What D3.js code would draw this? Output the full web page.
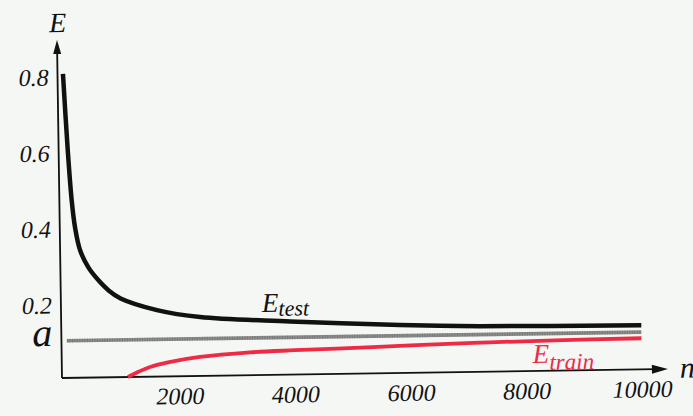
<!DOCTYPE html>
<html><head><meta charset="utf-8">
<script src="https://cdn.jsdelivr.net/npm/d3@7/dist/d3.min.js"></script>
<style>
html,body{margin:0;padding:0;background:#f5f7f4;overflow:hidden}
</style>
</head><body>
<svg id="c" width="693" height="416"></svg>
<script>
// ---- data ----
const nTest  = [60, 123, 178, 230, 310, 450, 614, 800, 1000, 1626, 2370, 3925, 5827, 7210, 10000];
const eTest  = [0.80, 0.60, 0.468, 0.395, 0.336, 0.29, 0.257, 0.228, 0.207, 0.175, 0.155, 0.14, 0.126, 0.12, 0.116];
const nTrain = [1107, 1300, 1491, 1800, 2358, 3225, 4000, 5040, 6000, 7206, 8500, 10000];
const eTrain = [0, 0.014, 0.0255, 0.037, 0.05, 0.06, 0.064, 0.068, 0.072, 0.0766, 0.080, 0.082];
const nA = [60, 10000];
const aLevel = 0.098;
const xTicks = [2000, 4000, 6000, 8000, 10000];
const yTicks = [0.2, 0.4, 0.6, 0.8];

const svg = d3.select("#c");
svg.append("rect").attr("width",693).attr("height",416).attr("fill","#f5f7f4");

const FONT = "Liberation Serif";
const ox = 62, oy = 378;
const x = d3.scaleLinear().domain([0, 10000]).range([64, 642]);
const y = d3.scaleLinear().domain([0, 1]).range([oy, oy - 380]);

const g = svg.append("g").attr("transform", `rotate(-0.85, ${ox}, ${oy})`);

// axes (labels only) via d3 axes
const xa = g.append("g").attr("transform", `translate(0,${oy})`)
  .call(d3.axisBottom(x).tickValues(xTicks).tickSize(0).tickFormat(d3.format("d")));
xa.attr("font-family", FONT);
xa.select(".domain").remove();
xa.selectAll("text").attr("y", 28).attr("dy", 0).attr("font-family", FONT).attr("font-style","italic")
  .attr("font-size", 24).attr("fill","#111");

const ya = g.append("g").attr("transform", `translate(${ox},0)`)
  .call(d3.axisLeft(y).tickValues(yTicks).tickSize(0).tickFormat(d3.format(".1f")));
ya.attr("font-family", FONT);
ya.select(".domain").remove();
ya.selectAll("text").attr("x", -9).attr("y", 11).attr("dy", 0).attr("font-family", FONT).attr("font-style","italic")
  .attr("font-size", 24).attr("fill","#111");

// axis lines with arrows
g.append("line").attr("x1", ox).attr("y1", oy).attr("x2", 656).attr("y2", oy)
  .attr("stroke","#111").attr("stroke-width",1.8);
g.append("line").attr("x1", ox).attr("y1", oy).attr("x2", ox).attr("y2", 50)
  .attr("stroke","#111").attr("stroke-width",1.8);
g.append("path").attr("d", `M668,${oy} L652,${oy-4.5} L652,${oy+4.5} Z`).attr("fill","#111");
g.append("path").attr("d", `M${ox},40 L${ox-4},54 L${ox+4},54 Z`).attr("fill","#111");

// lines
const line = d3.line().x(d => x(d[0])).y(d => y(d[1])).curve(d3.curveCatmullRom.alpha(0.5));
g.append("path").datum(nA.map(n => [n, aLevel])).attr("d", line)
  .attr("fill","none").attr("stroke","#8d8d8d").attr("stroke-width",3.6);
g.append("path").datum(nA.map(n => [n, aLevel])).attr("d", line)
  .attr("fill","none").attr("stroke","#6a6a6a").attr("stroke-width",3.6).attr("stroke-dasharray","1,1.5").attr("opacity",0.6);
g.append("path").datum(nTrain.map((n,i) => [n, eTrain[i]])).attr("d", line)
  .attr("fill","none").attr("stroke","#ee2a45").attr("stroke-width",3.8).attr("stroke-linecap","butt");
g.append("path").datum(nTest.map((n,i) => [n, eTest[i]])).attr("d", line)
  .attr("fill","none").attr("stroke","#111").attr("stroke-width",4.5).attr("stroke-linecap","butt");

// labels
function lbl(px, py, txt, size, anchor, col) {
  return g.append("text").attr("x", px).attr("y", py).attr("text-anchor", anchor || "start")
    .attr("font-family", FONT).attr("font-style","italic").attr("font-size", size)
    .attr("fill", col || "#111").text(txt);
}
lbl(ox + 1, 32, "E", 28, "middle");
lbl(ox - 9, y(aLevel) + 5, "a", 40, "end");
lbl(680, 387, "n", 30);

const t1 = g.append("text").attr("x", 263).attr("y", 315).attr("fill","#111")
  .attr("font-family", FONT).attr("font-style","italic");
t1.append("tspan").attr("font-size", 27).text("E");
t1.append("tspan").attr("font-size", 22).attr("dy", 4).text("test");

const t2 = g.append("text").attr("x", 533).attr("y", 370).attr("fill","#ee2a45")
  .attr("font-family", FONT).attr("font-style","italic");
t2.append("tspan").attr("font-size", 27).text("E");
t2.append("tspan").attr("font-size", 23).attr("dy", 7).text("train");
</script>
</body></html>
